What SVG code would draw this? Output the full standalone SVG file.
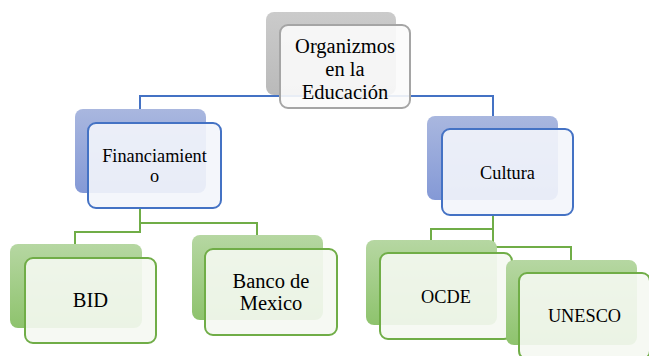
<svg xmlns="http://www.w3.org/2000/svg" width="649" height="356" viewBox="0 0 649 356">
<defs>
<linearGradient id="gGray" x1="0" y1="0" x2="0" y2="1"><stop offset="0" stop-color="#cbcbcb"/><stop offset="1" stop-color="#bababa"/></linearGradient>
<linearGradient id="gBlue" x1="0" y1="0" x2="0" y2="1"><stop offset="0" stop-color="#a9b7df"/><stop offset="1" stop-color="#8499d6"/></linearGradient>
<linearGradient id="gGreen" x1="0" y1="0" x2="0" y2="1"><stop offset="0" stop-color="#b6d7a2"/><stop offset="1" stop-color="#8ec36d"/></linearGradient>
<style>
.gray .bk{fill:url(#gGray)}
.gray .fr{fill:#fbfbfb;fill-opacity:0.9;stroke:#a5a5a5;stroke-width:2}
.blue .bk{fill:url(#gBlue)}
.blue .fr{fill:#f3f5fb;fill-opacity:0.9;stroke:#4472c4;stroke-width:2}
.green .bk{fill:url(#gGreen)}
.green .fr{fill:#f5f8f2;fill-opacity:0.9;stroke:#70ad47;stroke-width:2}
.cb{fill:none;stroke:#4472c4;stroke-width:2}
.cg{fill:none;stroke:#70ad47;stroke-width:2}
</style>
</defs>
<g id="connectors">
<polyline class="cb" points="140,110 140,96 493,96 493,116"/>
<polyline class="cg" points="140,208 140,232 75,232 75,244"/>
<polyline class="cg" points="140,223 257,223 257,235"/>
<polyline class="cg" points="493,215 493,247 571,247 571,260"/>
<polyline class="cg" points="493,229 431,229 431,240"/>
</g>
<g font-family="'Liberation Serif', 'Times New Roman', serif" text-anchor="middle" fill="#000">
<g id="node-organizmos" class="gray">
<rect class="bk" x="266" y="12" width="130" height="83" rx="8"/>
<rect class="fr" x="280" y="25" width="130" height="83" rx="8"/>
<text font-size="20.5" x="345" y="53">Organizmos</text>
<text font-size="20.5" x="345" y="76">en la</text>
<text font-size="20.5" x="345" y="99">Educación</text>
</g>
<g id="node-financiamiento" class="blue">
<rect class="bk" x="75" y="109" width="131" height="84" rx="8"/>
<rect class="fr" x="88" y="123" width="133" height="85" rx="8"/>
<text font-size="18.3" x="154.5" y="162">Financiamient</text>
<text font-size="18.3" x="154.5" y="182">o</text>
</g>
<g id="node-cultura" class="blue">
<rect class="bk" x="427" y="116" width="131" height="84" rx="8"/>
<rect class="fr" x="442" y="129" width="131" height="86" rx="8"/>
<text font-size="18.3" x="507.5" y="179">Cultura</text>
</g>
<g id="node-bid" class="green">
<rect class="bk" x="10" y="244" width="132" height="84" rx="8"/>
<rect class="fr" x="25" y="258" width="131" height="85" rx="8"/>
<text font-size="20.5" x="90.5" y="307">BID</text>
</g>
<g id="node-banco" class="green">
<rect class="bk" x="192" y="235" width="131" height="85" rx="8"/>
<rect class="fr" x="205" y="249" width="132" height="86" rx="8"/>
<text font-size="20.5" x="271" y="288">Banco de</text>
<text font-size="20.5" x="271" y="310">Mexico</text>
</g>
<g id="node-ocde" class="green">
<rect class="bk" x="366" y="240" width="131" height="85" rx="8"/>
<rect class="fr" x="380" y="253" width="132" height="86" rx="8"/>
<text font-size="18.3" x="446" y="303">OCDE</text>
</g>
<g id="node-unesco" class="green">
<rect class="bk" x="506" y="260" width="131" height="85" rx="8"/>
<rect class="fr" x="519" y="273" width="131" height="86" rx="8"/>
<text font-size="18.3" x="584.5" y="322">UNESCO</text>
</g>
</g>
</svg>
